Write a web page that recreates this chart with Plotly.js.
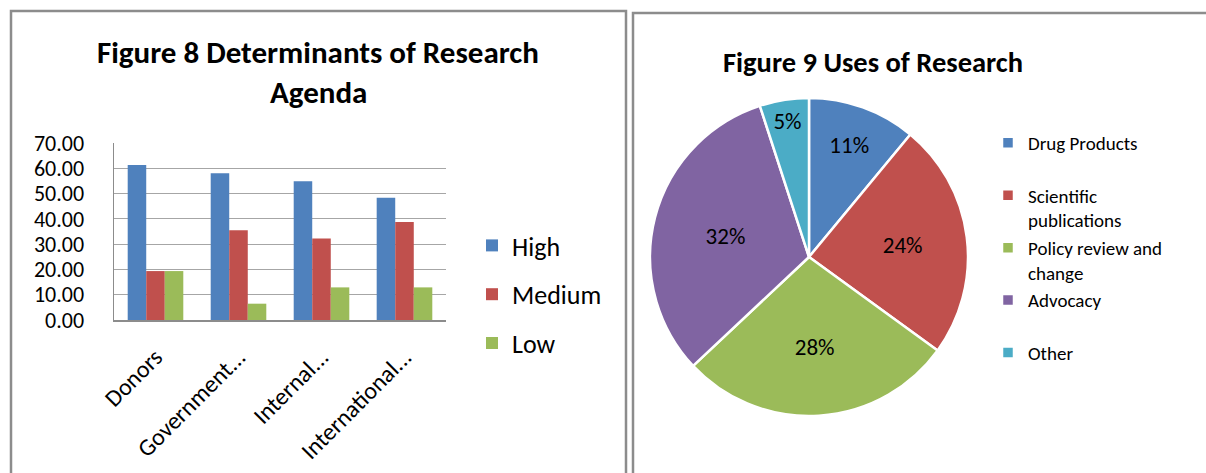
<!DOCTYPE html>
<html>
<head>
<meta charset="utf-8">
<script src="https://cdn.plot.ly/plotly-3.0.1.min.js"></script>
<style>html,body{margin:0;padding:0;background:#fff;}#chart{width:1206px;height:473px;}</style>
</head>
<body>
<div id="chart"></div>
<script>
// Figure 8 data
var barCategories = ["Donors", "Government...", "Internal...", "International..."];
var highValues = [61.29, 58.06, 54.84, 48.39];
var mediumValues = [19.35, 35.48, 32.26, 38.71];
var lowValues = [19.35, 6.45, 12.90, 12.90];
var barSeriesNames = ["High", "Medium", "Low"];
var barColors = ["#4F81BD", "#C0504D", "#9BBB59"];
var yTickValues = [0, 10, 20, 30, 40, 50, 60, 70];

// Figure 9 data
var pieLabels = ["Drug Products<br> ", "Scientific<br>publications", "Policy review and<br>change", "Advocacy<br> ", "Other<br> "];
var pieValues = [11, 24, 28, 32, 5];
var pieColors = ["#4F81BD", "#C0504D", "#9BBB59", "#8064A2", "#4BACC6"];

var titleLeft1 = "Figure 8 Determinants of Research";
var titleLeft2 = "Agenda";
var titleRight = "Figure 9 Uses of Research";

var FONT = "Carlito, Lato, 'Open Sans', sans-serif";
var W = 1206, H = 473;
function px(x) { return x / W; }
function py(y) { return 1 - y / H; }

var seriesValues = [highValues, mediumValues, lowValues];
var traces = seriesValues.map(function (vals, i) {
  return {
    type: "bar",
    x: barCategories,
    y: vals,
    name: barSeriesNames[i],
    legendgroup: "g" + i,
    legend: "legend",
    marker: { color: barColors[i] },
    hoverinfo: "x+y+name"
  };
});

traces.push({
  type: "pie",
  labels: pieLabels,
  values: pieValues,
  sort: false,
  direction: "clockwise",
  rotation: 0,
  marker: { colors: pieColors, line: { color: "#ffffff", width: 2.5 } },
  textinfo: "percent",
  textposition: "inside",
  insidetextorientation: "horizontal",
  textfont: { family: FONT, size: 23, color: "#000000" },
  domain: { x: [px(650), px(968)], y: [py(417), py(97)] },
  legend: "legend2",
  showlegend: true
});

var layout = {
  width: W,
  height: H,
  margin: { l: 0, r: 0, t: 0, b: 0 },
  paper_bgcolor: "#ffffff",
  plot_bgcolor: "#ffffff",
  font: { family: FONT, color: "#000000" },
  barmode: "group",
  bargap: 0.33,
  bargroupgap: 0,
  xaxis: {
    domain: [px(114), px(446)],
    type: "category",
    tickangle: -45,
    tickfont: { family: FONT, size: 24, color: "#000000" },
    showline: true,
    linecolor: "#8C8C8C",
    linewidth: 1.5,
    showgrid: false,
    ticks: "",
    ticklabelstandoff: 12,
    fixedrange: true
  },
  yaxis: {
    domain: [py(320), py(143)],
    range: [0, 70],
    tickvals: yTickValues,
    tickformat: ".2f",
    tickfont: { family: FONT, size: 22, color: "#000000" },
    showgrid: true,
    gridcolor: "#A6A6A6",
    gridwidth: 1.2,
    showline: true,
    linecolor: "#8C8C8C",
    linewidth: 1.5,
    zeroline: false,
    ticks: "",
    ticklabelstandoff: 24,
    fixedrange: true
  },
  legend: {
    x: px(472),
    y: py(222),
    xanchor: "left",
    yanchor: "top",
    traceorder: "grouped",
    tracegroupgap: 12,
    font: { family: FONT, size: 26, color: "#000000" },
    bgcolor: "rgba(0,0,0,0)"
  },
  legend2: {
    x: px(988),
    y: py(124),
    xanchor: "left",
    yanchor: "top",
    valign: "top",
    font: { family: FONT, size: 19, color: "#000000" },
    bgcolor: "rgba(0,0,0,0)"
  },
  annotations: [
    { text: "<b>" + titleLeft1 + "</b>", x: px(318), y: py(52), xref: "paper", yref: "paper", xanchor: "center", yanchor: "middle", showarrow: false, font: { family: FONT, size: 31, color: "#000000" } },
    { text: "<b>" + titleLeft2 + "</b>", x: px(318), y: py(92), xref: "paper", yref: "paper", xanchor: "center", yanchor: "middle", showarrow: false, font: { family: FONT, size: 31, color: "#000000" } },
    { text: "<b>" + titleRight + "</b>", x: px(873), y: py(62), xref: "paper", yref: "paper", xanchor: "center", yanchor: "middle", showarrow: false, font: { family: FONT, size: 28.5, color: "#000000" } }
  ],
  shapes: [
    { type: "rect", xref: "paper", yref: "paper", x0: px(11), x1: px(626), y0: -0.1, y1: py(11), line: { color: "#8C8C8C", width: 2.5 }, fillcolor: "rgba(0,0,0,0)", layer: "below" },
    { type: "rect", xref: "paper", yref: "paper", x0: px(633), x1: 1.1, y0: -0.1, y1: py(13), line: { color: "#8C8C8C", width: 2.5 }, fillcolor: "rgba(0,0,0,0)", layer: "below" }
  ]
};

Plotly.newPlot("chart", traces, layout, { displayModeBar: false, staticPlot: true });
</script>
</body>
</html>
